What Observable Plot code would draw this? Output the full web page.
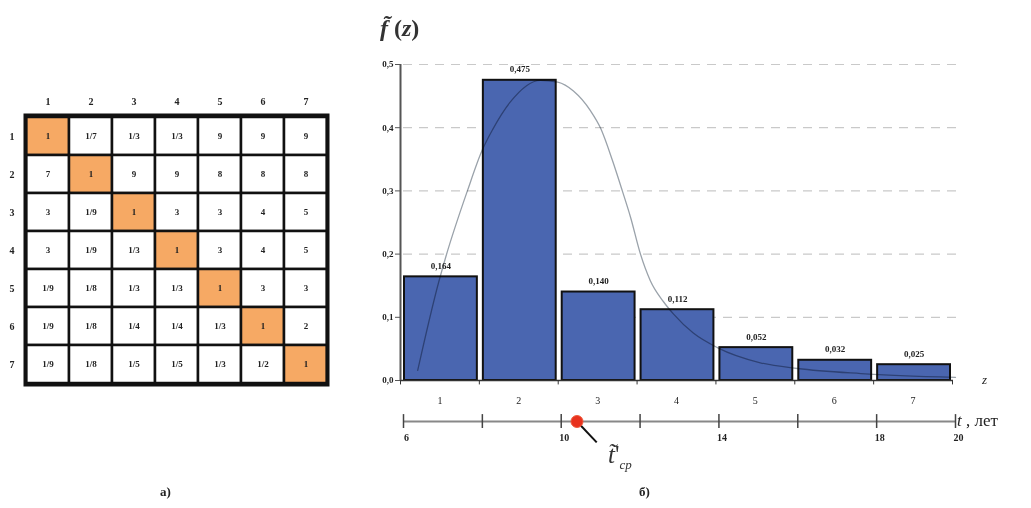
<!DOCTYPE html>
<html><head><meta charset="utf-8">
<script src="https://cdn.jsdelivr.net/npm/d3@7"></script>
<script src="https://cdn.jsdelivr.net/npm/@observablehq/plot@0.6"></script>
<style>
body{margin:0;background:#fff;}
#wrap{position:relative;width:1031px;height:508px;overflow:hidden;font-family:"Liberation Serif","DejaVu Serif",serif;color:#222;}
.abs{position:absolute;white-space:nowrap;}
</style></head><body><div id="wrap"></div>
<script>
// ---- data ----
const matrixRows = [1, 2, 3, 4, 5, 6, 7];
const matrixCols = [1, 2, 3, 4, 5, 6, 7];
const matrixRow1 = ["1", "1/7", "1/3", "1/3", "9", "9", "9"];
const matrixRow2 = ["7", "1", "9", "9", "8", "8", "8"];
const matrixRow3 = ["3", "1/9", "1", "3", "3", "4", "5"];
const matrixRow4 = ["3", "1/9", "1/3", "1", "3", "4", "5"];
const matrixRow5 = ["1/9", "1/8", "1/3", "1/3", "1", "3", "3"];
const matrixRow6 = ["1/9", "1/8", "1/4", "1/4", "1/3", "1", "2"];
const matrixRow7 = ["1/9", "1/8", "1/5", "1/5", "1/3", "1/2", "1"];
const matrixValues = [matrixRow1, matrixRow2, matrixRow3, matrixRow4, matrixRow5, matrixRow6, matrixRow7];

const zCategories = [1, 2, 3, 4, 5, 6, 7];
const zValues = [0.164, 0.475, 0.140, 0.112, 0.052, 0.032, 0.025];
const tEdges = [6, 8, 10, 12, 14, 16, 18, 20];
const tTickLabels = [6, 10, 14, 18, 20];
const yTicks = [0, 0.1, 0.2, 0.3, 0.4, 0.5];
const curveT = [6.36, 6.89, 7.07, 7.62, 8.0, 8.26, 8.7, 9.47, 9.91, 10.31, 10.74, 11.0, 11.3, 11.55, 11.76, 12.01, 12.26, 12.59, 12.85, 13.35, 13.96, 15.05, 15.99, 17.6, 20.0];
const curveF = [0.016, 0.155, 0.195, 0.3, 0.365, 0.397, 0.44, 0.475, 0.472, 0.458, 0.427, 0.399, 0.348, 0.30, 0.258, 0.20, 0.158, 0.125, 0.105, 0.075, 0.052, 0.028, 0.019, 0.011, 0.005];
const tMean = 10.4;

// ---- left: pairwise comparison matrix ----
const cells = matrixRows.flatMap((r, i) => matrixCols.map((c, j) => ({row: r, col: c, label: matrixValues[i][j], diag: r === c})));
const serif = "Liberation Serif, DejaVu Serif, serif";
const left = Plot.plot({
  width: 340, height: 400,
  marginLeft: 25, marginRight: 13, marginTop: 115, marginBottom: 16,
  style: {fontFamily: serif, background: "transparent", color: "#222"},
  x: {type: "band", domain: matrixCols, padding: 0, axis: null},
  y: {type: "band", domain: matrixRows, padding: 0, axis: null},
  marks: [
    Plot.cell(cells, {x: "col", y: "row", fill: d => d.diag ? "#f6a964" : "#ffffff", stroke: "#111", strokeWidth: 2.5, inset: 0}),
    Plot.text(cells, {x: "col", y: "row", text: "label", fontSize: 9, fontWeight: "bold", fill: "#222"}),
    Plot.frame({stroke: "#111", strokeWidth: 4}),
    Plot.axisX({anchor: "top", tickSize: 0, tickPadding: 11, fontSize: 10, fontWeight: "bold", label: null}),
    Plot.axisY({anchor: "left", tickSize: 0, tickPadding: 11, fontSize: 10, fontWeight: "bold", label: null})
  ]
});
left.style.position = "absolute"; left.style.left = "0px"; left.style.top = "0px";

// ---- right: histogram ----
const bars = zCategories.map((z, i) => ({z, t0: tEdges[i], t1: tEdges[i + 1], f: zValues[i]}));
const curve = curveT.map((t, i) => ({t, f: curveF[i]}));
const fmt3 = d => d.toFixed(3).replace(".", ",");
const right = Plot.plot({
  width: 671, height: 460,
  marginLeft: 43, marginRight: 76, marginTop: 64, marginBottom: 80,
  style: {fontFamily: serif, background: "transparent", color: "#222", overflow: "visible"},
  x: {domain: [6, 20], axis: null},
  y: {domain: [0, 0.5], axis: null},
  marks: [
    Plot.ruleY(yTicks.slice(1), {x1: 6, x2: 20.15, stroke: "#c9c9c9", strokeDasharray: "9,7", strokeWidth: 1.2}),
    Plot.rect(bars, {x1: "t0", x2: "t1", y1: 0, y2: "f", insetLeft: 1, insetRight: 5, fill: "#4a66b0", stroke: "#111", strokeWidth: 2}),
    Plot.line(curve, {x: "t", y: "f", curve: "monotone-x", stroke: "#9aa2aa", strokeWidth: 1.3, mixBlendMode: "multiply"}),
    Plot.text(bars, {x: d => (d.t0 + d.t1) / 2, y: "f", dy: -11, dx: -2, text: d => fmt3(d.f), fontSize: 9, fontWeight: "bold", fill: "#222"}),
    Plot.ruleY([0], {x1: 6, x2: 20, dx: -2, stroke: "#333", strokeWidth: 1.5}),
    Plot.ruleX([6], {y1: 0, y2: 0.5, dx: -3, stroke: "#555", strokeWidth: 2}),
    Plot.axisY({ticks: yTicks, tickFormat: d => d.toFixed(1).replace(".", ","), tickSize: 5, tickPadding: 2, dx: -3, fontWeight: "bold", fontSize: 9, label: null, stroke: "#555"}),
    Plot.ruleX(tEdges, {y1: 0, y2: -0.007, dx: -3, stroke: "#333", strokeWidth: 1}),
    Plot.text(bars, {x: d => (d.t0 + d.t1) / 2, y: 0, dy: 20, dx: -3, text: d => String(d.z), fontSize: 10, fill: "#222"}),
    // t axis
    Plot.ruleY([0], {x1: 6, x2: 20, dy: 41, stroke: "#888", strokeWidth: 2}),
    Plot.ruleX(tEdges, {y1: 0, y2: 0.022, dy: 48, stroke: "#444", strokeWidth: 1.5}),
    Plot.text(tTickLabels, {x: d => d, y: 0, dy: 57, dx: 3, text: d => String(d), fontSize: 10, fontWeight: "bold", fill: "#222"}),
    Plot.link([tMean], {x1: d => d, x2: d => d + 0.5, y1: 0, y2: -0.033, dy: 41, stroke: "#111", strokeWidth: 2}),
    Plot.dot([tMean], {x: d => d, y: 0, dy: 41, r: 6, fill: "#e8321e", stroke: "#f05a3c", strokeWidth: 1})
  ]
});
right.style.position = "absolute"; right.style.left = "360px"; right.style.top = "0px";

const wrap = document.getElementById("wrap");
wrap.appendChild(left);
wrap.appendChild(right);

function label(html, x, y, css) {
  const d = document.createElement("div");
  d.className = "abs";
  d.style.left = x + "px"; d.style.top = y + "px";
  d.style.cssText += css;
  d.innerHTML = html;
  wrap.appendChild(d);
}
label('<i>f\u0303</i> (<i>z</i>)', 380, 12, "font-size:24px;font-weight:bold;color:#333;line-height:32px;");
label('<i>z</i>', 982, 372, "font-size:13px;");
label('<i>t</i> , лет', 957, 411, "font-size:17px;");
label('<i>t\u0303</i>\'<sub style="font-style:italic;font-size:13px">ср</sub>', 608, 440, "font-size:25px;color:#333;line-height:30px;");
label('а)', 160, 484, "font-size:13px;font-weight:bold;");
label('б)', 639, 484, "font-size:13px;font-weight:bold;");
</script></body></html>
